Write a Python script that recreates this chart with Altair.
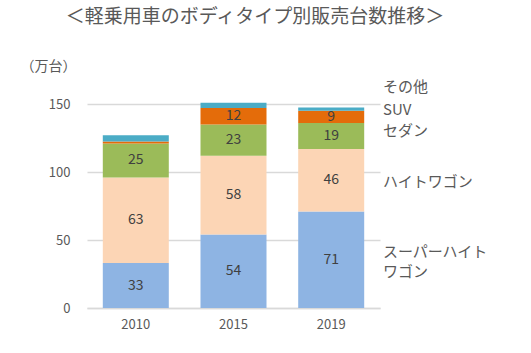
import altair as alt
import pandas as pd

years = ["2010", "2015", "2019"]
types = ["スーパーハイトワゴン", "ハイトワゴン", "セダン", "SUV", "その他"]
super_height = [33, 54, 71]
height_wagon = [63, 58, 46]
sedan = [25, 23, 19]
suv = [1.5, 12, 9]
others = [4.5, 4, 2.5]
show_label = [True, True, True, False, False]
colors = ["#8EB4E3", "#FCD5B5", "#9BBB59", "#E46C0A", "#4BACC6"]

legend_text = ["その他", "SUV", "セダン", "ハイトワゴン", "スーパーハイト", "ワゴン"]
legend_y = [162.5, 145.5, 130, 93, 41, 26.5]

title_text = ["＜軽乗用車のボディタイプ別販売台数推移＞"]

series = [super_height, height_wagon, sedan, suv, others]
rows = []
for ti, (t, vals) in enumerate(zip(types, series)):
    for yi, y in enumerate(years):
        rows.append({"year": y, "type": t, "order": ti, "value": vals[yi],
                     "label": str(vals[yi]) if (show_label[ti] or t == "SUV" and vals[yi] >= 5) else ""})
df = pd.DataFrame(rows)
leg = pd.DataFrame({"text": legend_text, "y": legend_y})
ttl = pd.DataFrame({"text": title_text})

FONT = "Noto Sans CJK JP"
GRAY = "#595959"

x = alt.X("year:N", title=None, sort=years,
          scale=alt.Scale(paddingInner=0.327, paddingOuter=0.163),
          axis=alt.Axis(labelAngle=0, labelFontSize=13, labelColor=GRAY, labelFont=FONT,
                        ticks=False, domainColor="#D9D9D9", domainWidth=1.5, labelPadding=10))
y = alt.Y("value:Q", stack="zero",
          scale=alt.Scale(domain=[0, 150], nice=False),
          axis=alt.Axis(values=[0, 50, 100, 150], title="（万台）", titleAngle=0,
                        titleX=-39, titleY=-38, titleAlign="center", titleBaseline="middle",
                        titleFontSize=14, titleFontWeight="normal", titleColor=GRAY, titleFont=FONT,
                        labelFontSize=13, labelColor=GRAY, labelFont=FONT, labelPadding=17,
                        ticks=False, domain=False, gridColor="#D9D9D9", gridWidth=1.5))

base = alt.Chart(df)
bars = base.mark_bar(size=66).encode(
    x=x, y=y,
    color=alt.Color("type:N", scale=alt.Scale(domain=types, range=colors), legend=None),
    order=alt.Order("order:Q"),
)
labels = base.mark_text(fontSize=14, color="#404040", font=FONT).encode(
    x=alt.X("year:N", sort=years),
    y=alt.Y("value:Q", stack="zero", bandPosition=0.5),
    detail="type:N",
    order=alt.Order("order:Q"),
    text="label:N",
)
legend_marks = alt.Chart(leg).mark_text(align="left", baseline="middle", fontSize=15,
                                          color=GRAY, font=FONT).encode(
    x=alt.value(296), y=alt.Y("y:Q"), text="text:N")
title_mark = alt.Chart(ttl).mark_text(align="center", baseline="middle", fontSize=19,
                                       color=GRAY, font=FONT).encode(
    x=alt.value(168), y=alt.value(-87), text="text:N")

chart = alt.layer(bars, labels, legend_marks, title_mark).properties(
    width=293, height=204,
    autosize="none",
    padding={"left": 87, "top": 104, "right": 151, "bottom": 45},
    background="white",
).configure_view(stroke=None, strokeWidth=0)

chart.save("out.html", embed_options={"renderer": "svg", "actions": False})
